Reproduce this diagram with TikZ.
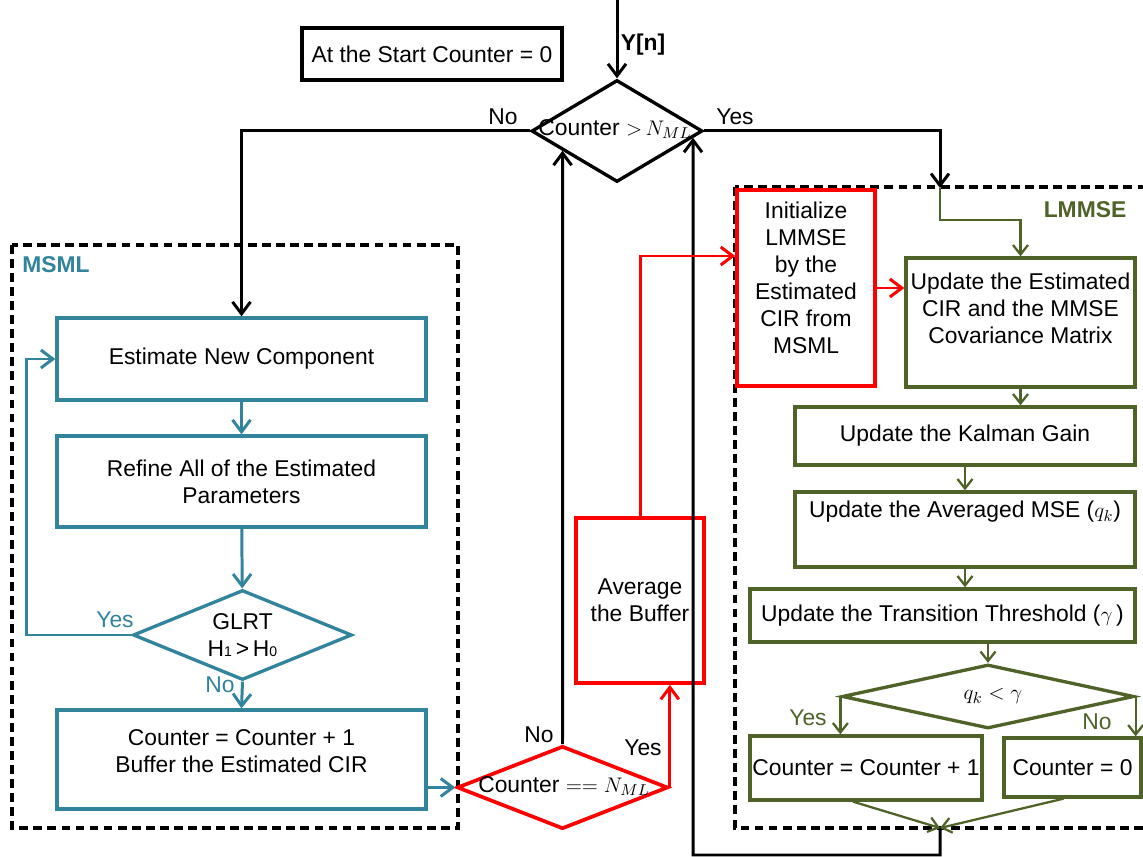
\documentclass[tikz,border=0pt]{standalone}
\usepackage{fontspec}
\setmainfont{Liberation Sans}
\usetikzlibrary{shapes.geometric,arrows.meta,calc}
\definecolor{msmlblue}{HTML}{31849B}
\definecolor{lmgreen}{HTML}{4F6228}
\definecolor{bufred}{HTML}{FF0000}
\newcommand{\flowfont}{\fontsize{13}{15.3}\selectfont}

\begin{document}
\begin{tikzpicture}[
    x=0.02cm, y=-0.02cm,
    font=\flowfont,
    box/.style={rectangle, draw, line width=1.9pt, align=center, inner sep=1pt},
    msbox/.style={box, draw=msmlblue},
    lmbox/.style={box, draw=lmgreen},
    redbox/.style={box, draw=bufred, line width=2.1pt},
    decision/.style={diamond, draw, line width=1.9pt, inner sep=0pt},
    groupframe/.style={draw, line width=1.9pt, dash pattern=on 5pt off 3pt},
    arrow/.style={-{Straight Barb[length=2.4mm,width=3.6mm]}, line width=1.7pt},
    msarrow/.style={arrow, msmlblue},
    lmarrow/.style={-{Straight Barb[length=1.9mm,width=3mm]}, line width=1.3pt, lmgreen},
    redarrow/.style={arrow, bufred},
    head/.style={font=\flowfont\bfseries},
    txt/.style={align=center}
]
    \useasboundingbox (0,0) rectangle (1143,857);

    % Start and input
    \node[box, minimum width=5.2cm, minimum height=1.04cm] (start) at (432,54) {At the Start Counter = 0};
    \coordinate (yin) at (617,0);
    \node[head] (yn) at (643,45) {Y[n]};

    % Main decision
    \node[decision, minimum width=3.42cm, minimum height=2.04cm] (d1) at (617,131) {};
    \node (d1txt) at (615,129) {Counter ${>}\,N_{ML}$};
    \node (d1no) at (503,117) {No};
    \node (d1yes) at (735,117) {Yes};

    % Group frames
    \draw[groupframe] (12,245) rectangle (458,828);
    \draw[groupframe] (735,187) rectangle (1150,828);
    \node[head, text=msmlblue] (msmltag) at (56,265) {MSML};
    \node[head, text=lmgreen] (lmtag) at (1085,210) {LMMSE};

    % MSML
    \node[msbox, minimum width=7.38cm, minimum height=1.64cm] (est) at (241.5,359) {Estimate New Component};
    \node[msbox, minimum width=7.38cm, minimum height=1.82cm] (ref) at (241.5,481.5) {Refine All of the Estimated\\Parameters};
    \node[decision, draw=msmlblue, minimum width=4.38cm, minimum height=1.8cm] (glrt) at (242.5,635) {};
    \node[txt] (glrttxt) at (242.5,635) {GLRT\\H{\footnotesize 1}\,>\,H{\footnotesize 0}};
    \node[text=msmlblue] (glrtyes) at (115,620) {Yes};
    \node[text=msmlblue] (glrtno) at (220,685) {No};
    \node[msbox, minimum width=7.38cm, minimum height=1.98cm] (cnt) at (241.5,759.5) {};
    \node[txt] (cnttxt) at (241.5,751) {Counter = Counter + 1\\Buffer the Estimated CIR};

    % Buffer check
    \node[decision, draw=bufred, line width=2.1pt, minimum width=4.22cm, minimum height=1.66cm] (d2) at (562.5,787.5) {};
    \node (d2txt) at (564,786) {Counter $==N_{ML}$};
    \node (d2no) at (539,735) {No};
    \node (d2yes) at (643,748) {Yes};
    \node[redbox, minimum width=2.56cm, minimum height=3.3cm] (avg) at (640,600.5) {Average\\the Buffer};
    \node[redbox, minimum width=2.76cm, minimum height=3.92cm] (init) at (806,288) {};
    \node[txt] (inittxt) at (806,278) {Initialize\\LMMSE\\by the\\Estimated\\CIR from\\MSML};

    % LMMSE
    \node[lmbox, minimum width=4.58cm, minimum height=2.58cm] (upd) at (1020.5,322.5) {};
    \node[txt] (updtxt) at (1020.5,308) {Update the Estimated\\CIR and the MMSE\\Covariance Matrix};
    \node[lmbox, minimum width=6.8cm, minimum height=1.16cm] (kal) at (965,436) {Update the Kalman Gain};
    \node[lmbox, minimum width=6.8cm, minimum height=1.5cm] (mse) at (965,529.5) {};
    \node (msetxt) at (965,512) {Update the Averaged MSE ($q_k$)};
    \node[lmbox, minimum width=7.7cm, minimum height=1.06cm] (thr) at (942.5,615.5) {Update the Transition Threshold ($\gamma$\,)};
    \node[decision, draw=lmgreen, minimum width=5.84cm, minimum height=1.28cm] (d3) at (988,696.5) {};
    \node (d3txt) at (993,696) {$q_k<\gamma$};
    \node[text=lmgreen] (d3yes) at (808,718) {Yes};
    \node[text=lmgreen] (d3no) at (1097,722) {No};
    \node[lmbox, minimum width=4.64cm, minimum height=1.28cm] (c1) at (866,768) {Counter = Counter + 1};
    \node[lmbox, minimum width=2.74cm, minimum height=1.18cm] (c0) at (1072.5,767.5) {Counter = 0};

    % Helper points
    \coordinate (lmtop) at (940,188);
    \coordinate (join) at (940,828);
    \coordinate (bot) at (940,855);
    \coordinate (rx) at (693,855);
    \coordinate (ry) at (693,131);
    \coordinate (up1) at (d2.north |- d1.center);

    % Black connectors
    \draw[arrow] (yin) -- (d1.north);
    \draw[arrow] (d1.west) -| (est.north);
    \draw[arrow] (d1.east) -| (lmtop);
    \draw[arrow] (d2.north) -- (intersection of d1.west--d1.south and d2.north--up1);
    \draw[arrow] (join) -- (bot) -- (rx) -- (intersection of d1.east--d1.south and rx--ry);

    % MSML connectors
    \draw[msarrow] (est) -- (ref);
    \draw[msarrow] (ref) -- (glrt);
    \draw[msarrow] (glrt.west) -- ++(-105,0) |- (est.west);
    \draw[msarrow] (glrt.south) -- (cnt.north);
    \draw[msarrow] (cnt.east |- d2.west) -- (d2.west);

    % Red connectors
    \draw[redarrow] (d2.east) -- (d2.east |- avg.south);
    \draw[redarrow] (avg.north) |- ([yshift=0.64cm]init.west);
    \draw[redarrow] (init.east) -- (init.east -| upd.west);

    % LMMSE connectors
    \draw[lmarrow] (lmtop) -- ++(0,32) -| (upd.north);
    \draw[lmarrow] (upd.south) -- (upd.south |- kal.north);
    \draw[lmarrow] (kal) -- (mse);
    \draw[lmarrow] (mse.south) -- (mse.south |- thr.north);
    \draw[lmarrow] (thr.south -| d3.north) -- (d3.north);
    \draw[lmarrow] (d3.west) -- (d3.west |- c1.north);
    \draw[lmarrow] (d3.east) -- (d3.east |- c0.north);
    \draw[lmarrow] ([xshift=-0.26cm]c1.south) -- (join);
    \draw[lmarrow] ([xshift=-0.18cm]c0.south) -- (join);
\end{tikzpicture}
\end{document}
